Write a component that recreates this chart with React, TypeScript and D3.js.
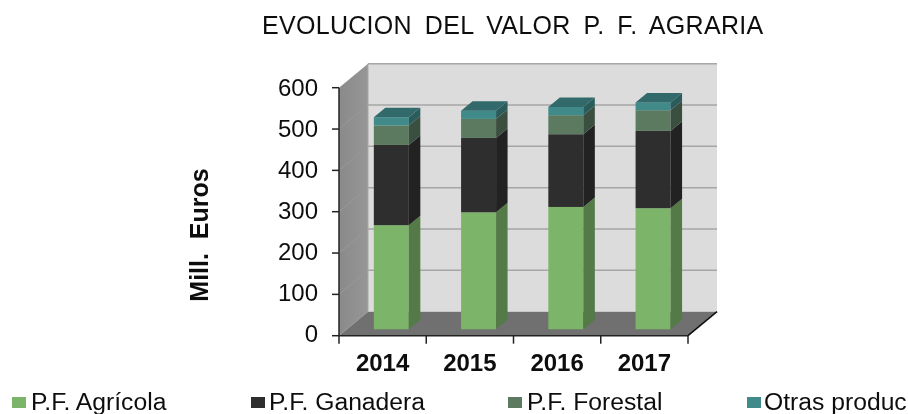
import React from "react";
import * as d3 from "d3";

const years = ["2014", "2015", "2016", "2017"];
const agricola = [252, 283, 296, 293];
const ganadera = [194, 180, 176, 187];
const forestal = [47, 46, 46, 50];
const otras = [20, 20, 20, 19];
const seriesNames = ["P.F. Agrícola", "P.F. Ganadera", "P.F. Forestal", "Otras produc"];
const ticks = [0, 100, 200, 300, 400, 500, 600];
const front = ["#7cb46b", "#2f2f2f", "#5b7a60", "#3f8a8a"];
const side = ["#527a47", "#202020", "#3b4f3f", "#2b5c5c"];
const topCol = ["#5f8f52", "#262626", "#48604c", "#31696a"];

const W = 908, H = 414;
const x0 = 339, x1 = 688, y0 = 335.7, yT = 87.7;
const dX = 29, dY = -24;
const barOX = 8.7, barOY = -6.4, barDX = 11.5, barDY = -9.5;
const bw = 35;
const legMarkX = [12, 251, 508, 747];
const legTextX = [31, 269, 527, 764];

const font = "'Liberation Sans', Arial, sans-serif";
const pts = (a: number[][]) => a.map(p => p.join(",")).join(" ");

export default function App() {
  const step = (x1 - x0) / years.length;
  const xc = d3.scalePoint<string>().domain(years).range([x0 + step / 2, x1 - step / 2]);
  const y = d3.scaleLinear().domain([0, 600]).range([y0, yT]);
  const yLabel = d3.scaleLinear().domain([0, 600]).range([341.7, 96]);
  const stack = d3.stack<number>().keys(["0", "1", "2", "3"]).value((_, k) => [agricola, ganadera, forestal, otras][+k][_]);
  const layers = stack(years.map((_, i) => i));

  return (
    <svg width={W} height={H} style={{ position: "absolute", left: 0, top: 0, fontFamily: font }}>
      <defs>
        <linearGradient id="wall" x1="0" x2="1" y1="0" y2="0">
          <stop offset="0" stopColor="#8a8a8a" />
          <stop offset="1" stopColor="#969696" />
        </linearGradient>
        <filter id="soft"><feGaussianBlur stdDeviation="0.4" /></filter>
      </defs>
      <g filter="url(#soft)">
        <text x={262} y={34} fontSize={25} letterSpacing={0.3} wordSpacing={5.6} fill="#111">EVOLUCION DEL VALOR P. F. AGRARIA</text>
        <rect x={x0 + dX} y={yT + dY} width={x1 - x0} height={y0 - yT} fill="#dcdcdc" />
        <polygon points={pts([[x0, y0], [x0 + dX, y0 + dY], [x0 + dX, yT + dY], [x0, yT]])} fill="url(#wall)" />
        <polygon points={pts([[x0, y0], [x1, y0], [x1 + dX, y0 + dY], [x0 + dX, y0 + dY]])} fill="#707070" />
        {ticks.map(t => (
          <g key={t}>
            {t > 0 && <line x1={x0 + dX} x2={x1 + dX} y1={y(t) + dY} y2={y(t) + dY} stroke="#a6a6a6" strokeWidth={1.5} />}
            {t > 0 && t < 600 && <line x1={x0} x2={x0 + dX} y1={y(t)} y2={y(t) + dY} stroke="#999999" strokeWidth={1} />}
          </g>
        ))}
        <line x1={x0 + dX} x2={x0 + dX} y1={yT + dY} y2={y0 + dY} stroke="#a8a8a8" strokeWidth={1} />

        {years.map((yr, i) => {
          const bx = (xc(yr) as number) - bw / 2 + barOX;
          return (
            <g key={yr}>
              {layers.map((l, s) => {
                const yA = y(l[i][0]) + barOY, yB = y(l[i][1]) + barOY;
                return (
                  <g key={s}>
                    <rect x={bx} y={yB} width={bw} height={yA - yB} fill={front[s]} />
                    <polygon points={pts([[bx + bw, yA], [bx + bw + barDX, yA + barDY], [bx + bw + barDX, yB + barDY], [bx + bw, yB]])} fill={side[s]} />
                    {s === 3 && <polygon points={pts([[bx, yB], [bx + bw, yB], [bx + bw + barDX, yB + barDY], [bx + barDX, yB + barDY]])} fill={topCol[s]} />}
                  </g>
                );
              })}
            </g>
          );
        })}

        <line x1={x1} y1={y0} x2={x1 + dX} y2={y0 + dY} stroke="#111" strokeWidth={1.5} />
        <line x1={x0} x2={x1} y1={y0} y2={y0} stroke="#222" strokeWidth={1.5} />
        <line x1={x0} x2={x0} y1={yT} y2={y0} stroke="#222" strokeWidth={1.5} />
        {ticks.map(t => <line key={t} x1={x0 - 7} x2={x0} y1={y(t)} y2={y(t)} stroke="#222" strokeWidth={1.5} />)}
        {d3.range(years.length + 1).map(i => <line key={i} x1={x0 + step * i} x2={x0 + step * i} y1={y0} y2={y0 + 8} stroke="#222" strokeWidth={1.5} />)}

        {ticks.map(t => <text key={t} x={318} y={yLabel(t)} textAnchor="end" fontSize={24} fill="#111">{t}</text>)}
        {years.map(yr => <text key={yr} x={(xc(yr) as number)} y={370.7} textAnchor="middle" fontSize={24} fontWeight="bold" fill="#111">{yr}</text>)}
        <text transform="translate(208,235) rotate(-90)" textAnchor="middle" fontSize={25} fontWeight="bold" fill="#111" style={{ whiteSpace: "pre" }}>{"Mill.  Euros"}</text>

        {seriesNames.map((n, i) => (
          <g key={n}>
            <rect x={legMarkX[i]} y={397} width={14} height={11} fill={front[i]} />
            <text x={legTextX[i]} y={410} fontSize={24.7} fill="#111">{n}</text>
          </g>
        ))}
      </g>
    </svg>
  );
}
